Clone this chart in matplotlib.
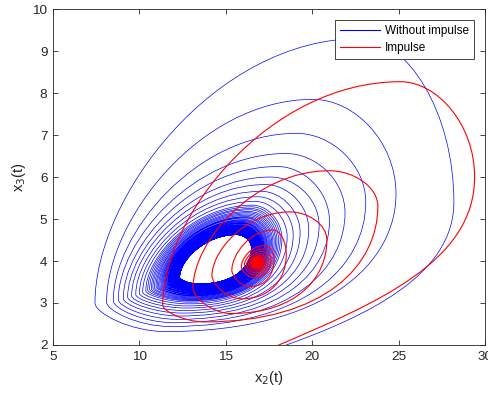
import numpy as np
import matplotlib
matplotlib.use('Agg')
import matplotlib.pyplot as plt
from matplotlib.path import Path
from matplotlib.patches import PathPatch
from matplotlib.lines import Line2D

plt.rcParams['font.family'] = ['Liberation Sans', 'DejaVu Sans']

# extreme points of every turn: right, top, left, bottom
# (both runs enter from below the axis)
blue_start = (18.3, 1.97)
blue_head = (23.3, 2.7)
blue_rx = [28.2, 24.85, 23.1, 21.9, 21.0, 20.4, 19.8, 19.3, 18.9, 18.55, 18.25,
           18.15, 18.05, 17.96, 17.88, 17.80, 17.72, 17.65, 17.58, 17.52, 17.46,
           17.40, 17.35, 17.30, 17.25, 17.20, 17.16, 17.12, 17.08, 17.04, 17.01,
           16.98, 16.95, 16.92, 16.89, 16.86, 16.84, 16.82, 16.80, 16.78, 16.75,
           16.74, 16.72, 16.70, 16.69, 16.67, 16.66, 16.65, 16.63, 16.62, 16.61,
           16.60, 16.59, 16.58, 16.57, 16.56, 16.555, 16.55, 16.54, 16.535, 16.53,
           16.52, 16.517, 16.51, 16.506, 16.502, 16.497, 16.493, 16.49, 16.486, 16.482]
blue_ry = [5.4, 5.6, 5.4, 5.15, 4.95, 4.85, 4.75, 4.68, 4.62, 4.57, 4.53,
           4.52, 4.51, 4.49, 4.48, 4.47, 4.46, 4.46, 4.45, 4.44, 4.43,
           4.42, 4.42, 4.41, 4.40, 4.40, 4.39, 4.39, 4.38, 4.38, 4.37,
           4.37, 4.37, 4.36, 4.36, 4.36, 4.35, 4.35, 4.35, 4.35, 4.34,
           4.34, 4.34, 4.34, 4.33, 4.33, 4.33, 4.33, 4.33, 4.33, 4.32,
           4.32, 4.32, 4.32, 4.32, 4.32, 4.32, 4.32, 4.32, 4.31, 4.31,
           4.31, 4.31, 4.31, 4.31, 4.31, 4.31, 4.31, 4.31, 4.31, 4.31]
blue_tx = [22.8, 20.05, 19.1, 18.5, 18.0, 17.6, 17.3, 17.05, 16.85, 16.7, 16.55,
           16.50, 16.45, 16.40, 16.35, 16.31, 16.27, 16.23, 16.20, 16.16, 16.13,
           16.10, 16.07, 16.05, 16.02, 16.00, 15.97, 15.95, 15.93, 15.91, 15.89,
           15.88, 15.86, 15.84, 15.83, 15.82, 15.80, 15.79, 15.78, 15.77, 15.76,
           15.75, 15.74, 15.73, 15.72, 15.71, 15.71, 15.70, 15.69, 15.69, 15.68,
           15.68, 15.67, 15.67, 15.66, 15.66, 15.65, 15.65, 15.64, 15.64, 15.64,
           15.63, 15.63, 15.63, 15.63, 15.62, 15.62, 15.62, 15.62, 15.62, 15.61]
blue_ty = [9.3, 7.85, 7.04, 6.56, 6.25, 6.0, 5.82, 5.66, 5.53, 5.42, 5.33,
           5.29, 5.25, 5.22, 5.18, 5.15, 5.12, 5.09, 5.06, 5.04, 5.02,
           4.99, 4.97, 4.95, 4.93, 4.91, 4.90, 4.88, 4.86, 4.85, 4.84,
           4.82, 4.81, 4.80, 4.79, 4.78, 4.77, 4.76, 4.75, 4.74, 4.73,
           4.73, 4.72, 4.71, 4.71, 4.70, 4.70, 4.69, 4.69, 4.68, 4.68,
           4.67, 4.67, 4.66, 4.66, 4.66, 4.65, 4.65, 4.65, 4.65, 4.64,
           4.64, 4.64, 4.64, 4.63, 4.63, 4.63, 4.63, 4.63, 4.63, 4.63]
blue_lx = [7.43, 8.1, 8.49, 8.78, 9.07, 9.32, 9.55, 9.79, 10.0, 10.19, 10.37,
           10.48, 10.59, 10.69, 10.78, 10.87, 10.96, 11.03, 11.11, 11.18, 11.25,
           11.31, 11.37, 11.43, 11.48, 11.53, 11.58, 11.63, 11.67, 11.71, 11.74,
           11.78, 11.82, 11.85, 11.88, 11.91, 11.93, 11.96, 11.98, 12.01, 12.03,
           12.05, 12.07, 12.09, 12.10, 12.12, 12.13, 12.15, 12.16, 12.18, 12.19,
           12.20, 12.21, 12.22, 12.23, 12.24, 12.25, 12.26, 12.27, 12.27, 12.28,
           12.29, 12.29, 12.30, 12.31, 12.31, 12.32, 12.32, 12.32, 12.33, 12.33]
blue_ly = [3.0, 3.02, 3.05, 3.08, 3.11, 3.14, 3.17, 3.2, 3.23, 3.26, 3.29,
           3.31, 3.33, 3.34, 3.36, 3.37, 3.39, 3.40, 3.41, 3.42, 3.43,
           3.44, 3.45, 3.46, 3.47, 3.48, 3.49, 3.49, 3.50, 3.51, 3.51,
           3.52, 3.53, 3.53, 3.54, 3.54, 3.54, 3.55, 3.55, 3.56, 3.56,
           3.56, 3.57, 3.57, 3.57, 3.57, 3.58, 3.58, 3.58, 3.58, 3.59,
           3.59, 3.59, 3.59, 3.59, 3.59, 3.60, 3.60, 3.60, 3.60, 3.60,
           3.60, 3.60, 3.60, 3.60, 3.61, 3.61, 3.61, 3.61, 3.61, 3.61]
blue_bx = [11.5, 11.8, 12.0, 12.2, 12.35, 12.5, 12.6, 12.7, 12.78, 12.85, 12.92,
           12.95, 12.97, 13.00, 13.02, 13.04, 13.06, 13.08, 13.10, 13.12, 13.14,
           13.15, 13.17, 13.18, 13.19, 13.21, 13.22, 13.23, 13.24, 13.25, 13.26,
           13.27, 13.28, 13.28, 13.29, 13.30, 13.30, 13.31, 13.32, 13.32, 13.33,
           13.33, 13.34, 13.34, 13.35, 13.35, 13.35, 13.36, 13.36, 13.36, 13.37,
           13.37, 13.37, 13.38, 13.38, 13.38, 13.38, 13.38, 13.39, 13.39, 13.39,
           13.39, 13.39, 13.39, 13.40, 13.40, 13.40, 13.40, 13.40, 13.40, 13.40]
blue_by = [2.32, 2.44, 2.53, 2.61, 2.69, 2.76, 2.82, 2.88, 2.93, 2.98, 3.02,
           3.05, 3.07, 3.09, 3.11, 3.13, 3.15, 3.17, 3.18, 3.20, 3.21,
           3.23, 3.24, 3.25, 3.27, 3.28, 3.29, 3.30, 3.31, 3.32, 3.33,
           3.33, 3.34, 3.35, 3.35, 3.36, 3.37, 3.37, 3.38, 3.38, 3.39,
           3.39, 3.40, 3.40, 3.40, 3.41, 3.41, 3.42, 3.42, 3.42, 3.42,
           3.43, 3.43, 3.43, 3.43, 3.44, 3.44, 3.44, 3.44, 3.44, 3.44,
           3.45, 3.45, 3.45, 3.45, 3.45, 3.45, 3.45, 3.45, 3.45, 3.46]

red_start = (17.9, 1.97)
red_head = (23.75, 3.0)
red_rx = [29.4, 23.8, 20.85, 18.5,
          17.8, 17.61, 17.46, 17.33, 17.23, 17.15, 17.08, 17.03, 16.99, 16.95,
          16.92, 16.9, 16.88, 16.865, 16.85]
red_ry = [6.0, 5.3, 4.5, 4.15,
          4.05, 4.03, 4.02, 4.0, 3.99, 3.99, 3.98, 3.97, 3.97, 3.97,
          3.96, 3.96, 3.96, 3.96, 3.955]
red_tx = [25.1, 21.0, 18.7, 17.75,
          17.25, 17.16, 17.1, 17.04, 17.0, 16.96, 16.93, 16.9, 16.89, 16.87,
          16.85, 16.85, 16.84, 16.83, 16.82]
red_ty = [8.27, 6.15, 5.17, 4.74,
          4.37, 4.29, 4.23, 4.17, 4.13, 4.1, 4.07, 4.05, 4.03, 4.01,
          4.0, 3.99, 3.98, 3.98, 3.97]
red_lx = [11.35, 13.1, 14.2, 15.35,
          15.9, 16.07, 16.21, 16.32, 16.41, 16.49, 16.55, 16.59, 16.63, 16.67,
          16.69, 16.71, 16.73, 16.74, 16.76]
red_ly = [2.95, 3.35, 3.65, 3.78,
          3.87, 3.89, 3.9, 3.91, 3.92, 3.92, 3.93, 3.93, 3.93, 3.94,
          3.94, 3.94, 3.94, 3.95, 3.95]
red_bx = [13.8, 15.3, 15.9, 16.4,
          16.65, 16.68, 16.7, 16.72, 16.74, 16.75, 16.76, 16.77, 16.77, 16.78,
          16.78, 16.79, 16.79, 16.79, 16.79]
red_by = [2.55, 2.75, 3.1, 3.39,
          3.6, 3.67, 3.72, 3.76, 3.8, 3.83, 3.85, 3.87, 3.88, 3.9,
          3.91, 3.92, 3.92, 3.93, 3.93]


def spiral(start, head, rx, ry, tx, ty, lx, ly, bx, by):
    # bezier handle fractions of the quarters (b->r, r->t, t->l, l->b)
    hb, hr1, hr2, ht1, ht2, hl1, hl2, hb2 = 0.7, 0.5, 0.55, 0.5, 0.55, 0.4, 0.35, 0.5
    verts = [start]
    codes = [Path.MOVETO]
    px, py = start
    for k in range(len(rx)):
        R = (rx[k], ry[k]); T = (tx[k], ty[k]); L = (lx[k], ly[k]); B = (bx[k], by[k])
        c1 = head if k == 0 else (px + hb * (R[0] - px), py)
        verts += [c1, (R[0], R[1] - hr1 * (R[1] - py)), R]
        verts += [(R[0], R[1] + hr2 * (T[1] - R[1])), (T[0] + ht1 * (R[0] - T[0]), T[1]), T]
        verts += [(T[0] - ht2 * (T[0] - L[0]), T[1]), (L[0], L[1] + hl1 * (T[1] - L[1])), L]
        verts += [(L[0], L[1] - hl2 * (L[1] - B[1])), (B[0] - hb2 * (B[0] - L[0]), B[1]), B]
        codes += [Path.CURVE4] * 12
        px, py = B
    return Path(verts, codes)


fig = plt.figure(figsize=(4.89, 3.94), dpi=100)
ax = fig.add_axes([0.1084, 0.1244, 0.8834, 0.8526])

pb = spiral(blue_start, blue_head, blue_rx, blue_ry, blue_tx, blue_ty,
            blue_lx, blue_ly, blue_bx, blue_by)
pr = spiral(red_start, red_head, red_rx, red_ry, red_tx, red_ty,
            red_lx, red_ly, red_bx, red_by)
ax.add_patch(PathPatch(pb, fc='none', ec=(0, 0, 1), lw=0.5))
ax.add_patch(PathPatch(pr, fc='none', ec=(1, 0, 0), lw=0.8))

ax.set_xlim(5, 30)
ax.set_ylim(2, 10)
ax.set_xticks([5, 10, 15, 20, 25, 30])
ax.set_yticks([2, 3, 4, 5, 6, 7, 8, 9, 10])
gray = (0.15, 0.15, 0.15)
ax.tick_params(direction='in', length=3.5, width=0.6, top=True, right=True,
               labelsize=9.7, colors=gray, pad=4)
for s in ax.spines.values():
    s.set_color(gray)
    s.set_linewidth(0.6)
ax.set_xlabel('x$_2$(t)', fontsize=10.7, color=gray, labelpad=5)
ax.set_ylabel('x$_3$(t)', fontsize=10.7, color=gray, labelpad=3)

handles = [Line2D([], [], color=(0, 0, 1), lw=0.8), Line2D([], [], color=(1, 0, 0), lw=0.8)]
leg = ax.legend(handles, ['Without impulse', 'Impulse'], loc='upper right', fontsize=8.5,
                fancybox=False, framealpha=1, edgecolor=gray, borderaxespad=0.9,
                handlelength=3.4, handletextpad=0.4, borderpad=0.45, labelspacing=0.4)
leg.get_frame().set_linewidth(0.6)

fig.savefig('out.png', dpi=100)
